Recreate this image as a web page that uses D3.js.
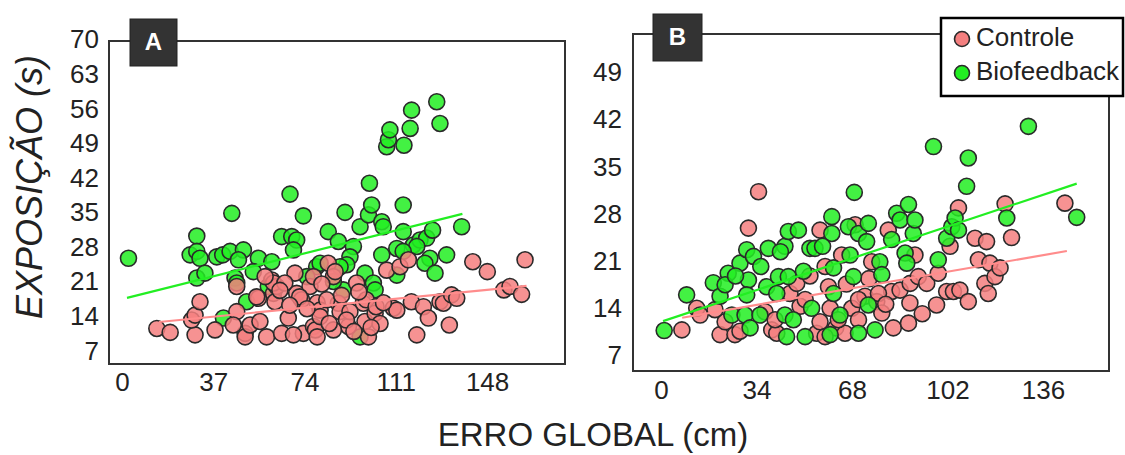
<!DOCTYPE html>
<html>
<head>
<meta charset="utf-8">
<script src="https://cdn.jsdelivr.net/npm/d3@7"></script>
<style>
  body { margin: 0; background: #fff; }
  svg text { font-family: "Liberation Sans", Arial, sans-serif; fill: #222; }
</style>
</head>
<body>
<svg id="chart" width="1125" height="455"></svg>
<script>
// Panel A data: [erro global (cm), exposição (s)]
const aControle = [
  [14.1,11.8],[19.5,11.0],[29.6,10.5],[28.2,13.5],[29.6,14.5],[31.6,17.2],[37.7,11.5],[46.5,15.2],
  [46.5,20.3],[49.9,10.8],[49.9,10.1],[51.9,12.5],[55.9,13.2],[55.3,17.9],[58.6,10.1],[60.7,21.6],
  [61.4,18.9],[62,17.2],[62.7,20.3],[64.7,10.8],[67.4,13.9],[70.1,23.0],[70.8,18.9],[72.8,17.6],
  [73.5,10.8],[76.2,20.3],[77.6,12.2],[78.4,11.5],[79.1,10.1],[79.1,17.0],[80.3,15.5],[83.6,25.0],
  [85.7,22.3],[86.4,23.3],[87.7,16.9],[88.4,15.2],[91.8,12.2],[95.1,21.0],[97.8,16.9],[98.5,13.2],
  [99.9,10.1],[102.6,14.9],[104.6,12.8],[107.3,23.6],[110,15.9],[111.4,15.5],[112.7,24.3],[116.1,25.7],
  [117.3,17.2],[119.5,10.5],[122.2,16.2],[124.2,13.9],[128.9,17.2],[130.3,16.9],[132.7,12.5],[133.6,18.6],
  [135.7,17.9],[142.2,25.3],[148.1,23.3],[154.8,19.6],[157.3,20.3],[162,18.7],[163.4,25.7],
  [61.4,21.0],[58,22.3],[66,21.0],[72,18.2],[77.6,22.3],[83,17.6],[85.7,11.5],[92.4,15.2],[99,17.6],
  [103,16.2],[91,13.5],[80.3,14.2],[69.5,10.5],[45.1,12.5],[54.6,18.2],
  [64,19.5],[68,16.5],[75,15.8],[81,20.8],[84,12.8],[89,18.5],[94,11.2],[96,19.2],[101,12.0],[106,17.0]
];
const aBiofeedback = [
  [2.6,26.0],[30.3,30.5],[27.6,26.7],[30.3,27.4],[31.6,26.0],[30.3,22.0],[33.6,23.0],[38.4,26.3],
  [40.8,26.7],[43.8,27.4],[49.2,27.7],[47.2,25.7],[44.5,35.1],[45.8,22.0],[46.5,21.0],[50.5,17.2],
  [41.1,13.9],[55.3,26.0],[53.2,23.3],[60.7,25.3],[59.3,20.3],[64.7,30.4],[68.1,39.0],[68.8,30.4],
  [70.8,29.7],[69.5,27.7],[73.5,34.6],[78.9,24.3],[83.6,31.4],[87.7,29.4],[90.4,35.3],[93.8,28.4],
  [92.4,26.3],[91.1,24.7],[89.7,19.6],[96.5,32.4],[99.9,34.8],[101.2,36.8],[100.3,41.2],[105.3,33.4],
  [105.9,32.4],[105.3,26.7],[98.5,23.0],[101.9,21.0],[102.6,19.6],[96.5,10.1],[107.3,48.6],[108,50.0],
  [108.6,52.0],[114.3,48.9],[116.8,52.3],[117.4,56.0],[127.6,57.7],[128.9,53.3],[114,36.8],[114,31.4],
  [111.4,28.0],[111.4,22.6],[118.1,28.7],[120.8,29.7],[123.5,30.1],[125.9,31.7],[124.8,26.0],[122.8,25.0],
  [126.9,23.0],[131.6,26.7],[137.7,32.4],[119.5,28.4],[114,27.4],[74.9,22.3],[80.3,25.0],[85.7,21.3],[88.4,24.3]
];
// Panel B data
const bControle = [
  [7.4,11.0],[12.7,14.2],[13.9,13.2],[21,10.3],[22.8,12.2],[26.3,10.3],[28.1,10.8],[31.1,26.1],
  [34.7,31.5],[37,13.7],[39.4,11.0],[41.2,10.5],[45.9,16.4],[48.3,17.9],[49.5,14.5],[55.4,10.5],
  [56.6,25.8],[56.6,12.2],[58.4,20.4],[59.6,17.4],[60.2,14.2],[62.2,11.3],[64.3,22.1],[65.5,10.5],
  [67.9,14.2],[69.1,26.6],[70.3,12.5],[72.6,16.0],[75,21.1],[76.8,15.2],[78.6,13.5],[80.9,25.8],
  [82.1,16.7],[82.7,11.3],[85.1,16.9],[88.1,12.0],[88.7,17.9],[90.4,22.1],[91.6,18.9],[94.6,17.9],
  [98.1,14.7],[98.7,19.4],[101.7,16.7],[102.9,23.4],[104.1,16.7],[105.9,29.1],[106.4,16.9],[109.4,15.2],
  [111.8,24.6],[113,21.4],[115.9,24.1],[115.3,17.9],[116.5,16.4],[117.1,20.9],[118.9,18.9],[120.7,20.2],
  [122.5,29.7],[124.8,24.7],[143.8,29.8],[51.3,15.5],[63.1,12.5],[70.3,15.5],[77.4,16.4],[88.6,15.0],
  [19.2,14.0],[40.6,12.5],[58.4,10.0],[66,17.8],[80,14.8],[93,13.4],[53,19.0],[74,18.6]
];
const bBiofeedback = [
  [1.1,10.9],[9.1,16.2],[18.6,18.0],[21,16.0],[23.9,19.4],[22.8,17.7],[25.2,13.2],[28.1,20.9],
  [30.5,22.9],[31.1,18.4],[30.5,16.2],[29.9,13.2],[31.7,11.3],[32.9,21.9],[35.2,13.2],[37.6,17.4],
  [38.2,23.1],[41.2,16.4],[41.8,18.9],[44.1,23.4],[45.3,25.6],[45.3,18.9],[44.1,13.2],[44.7,10.0],
  [47.1,12.5],[48.9,25.8],[50.7,19.7],[51.3,10.0],[53,23.1],[53.6,14.2],[54.8,23.1],[60.8,27.8],
  [60.8,25.3],[60.2,10.3],[61.4,20.2],[61.4,16.4],[63.7,13.2],[66.7,26.3],[67.3,22.1],[68.5,18.9],
  [68.8,31.4],[70.3,25.3],[70.3,10.5],[73.2,24.1],[73.8,26.8],[73.8,14.7],[76.2,11.0],[77.9,21.1],
  [78.6,19.2],[82.1,24.4],[83.9,28.3],[85.1,27.3],[86.9,22.4],[87.5,20.9],[88.1,29.6],[89.8,25.3],
  [90.4,27.3],[97,38.2],[98.7,21.4],[101.7,24.6],[103.5,26.3],[104.7,27.6],[105.9,25.8],[108.8,32.3],
  [109.4,36.5],[123.1,27.6],[130.8,41.2],[148,27.7],[26.5,19.0],[35.5,20.4],[42.5,22.6],[57.5,23.4]
];
// trend line end points
const aTrendControle = [[15,13.1],[164,20.4]];
const aTrendBio = [[2,18.0],[138,35.0]];
const bTrendControle = [[7.5,12.8],[144.5,22.7]];
const bTrendBio = [[0.7,12.3],[148,32.7]];

const aXTicks = [0, 37, 74, 111, 148];
const aYTicks = [7, 14, 21, 28, 35, 42, 49, 56, 63, 70];
const bXTicks = [0, 34, 68, 102, 136];
const bYTicks = [7, 14, 21, 28, 35, 42, 49];

const groups = ["Controle", "Biofeedback"];
const colors = { Controle: "#f47f7f", Biofeedback: "#22ee22" };
const lineColors = { Controle: "#ff8c8c", Biofeedback: "#22ee22" };

const svg = d3.select("#chart");

function drawPanel(cfg) {
  const x = d3.scaleLinear().domain(cfg.xDomain).range([cfg.left, cfg.right]);
  const y = d3.scaleLinear().domain(cfg.yDomain).range([cfg.bottom, cfg.top]);
  const g = svg.append("g");

  // tick labels only (no tick marks in the original)
  const xAxis = g.append("g")
    .attr("transform", `translate(0,${cfg.xLabelY})`)
    .call(d3.axisBottom(x).tickValues(cfg.xTicks).tickSize(0).tickPadding(0));
  xAxis.select(".domain").remove();
  xAxis.selectAll("text")
    .attr("dy", null)
    .attr("dominant-baseline", "middle")
    .style("font-size", "26px")
    .style("font-family", "'Liberation Sans', Arial, sans-serif")
    .attr("fill", "#222");

  const yAxis = g.append("g")
    .attr("transform", `translate(${cfg.yLabelX},0)`)
    .call(d3.axisLeft(y).tickValues(cfg.yTicks).tickSize(0).tickPadding(0));
  yAxis.select(".domain").remove();
  yAxis.selectAll("text")
    .attr("dy", null)
    .attr("dominant-baseline", "middle")
    .style("font-size", "26px")
    .style("font-family", "'Liberation Sans', Arial, sans-serif")
    .attr("fill", "#222");

  // points
  cfg.order.forEach(name => {
    g.append("g").selectAll("circle")
      .data(cfg.data[name])
      .enter()
      .append("circle")
      .attr("cx", d => x(d[0]))
      .attr("cy", d => y(d[1]))
      .attr("r", 8)
      .attr("fill", colors[name])
      .attr("fill-opacity", 0.85)
      .attr("stroke", "#2a2a2a")
      .attr("stroke-width", 1.6);
  });

  // trend lines
  const line = d3.line().x(d => x(d[0])).y(d => y(d[1]));
  groups.forEach(name => {
    g.append("path")
      .attr("d", line(cfg.trend[name]))
      .attr("fill", "none")
      .attr("stroke", lineColors[name])
      .attr("stroke-width", 2.2);
  });

  // frame
  g.append("rect")
    .attr("x", cfg.left).attr("y", cfg.top)
    .attr("width", cfg.right - cfg.left)
    .attr("height", cfg.bottom - cfg.top)
    .attr("fill", "none")
    .attr("stroke", "#333")
    .attr("stroke-width", 2);

  // panel letter
  g.append("rect")
    .attr("x", cfg.tag.x).attr("y", cfg.tag.y)
    .attr("width", cfg.tag.w).attr("height", cfg.tag.h)
    .attr("fill", "#333").attr("stroke", "#222").attr("stroke-width", 1);
  g.append("text")
    .attr("x", cfg.tag.x + cfg.tag.w / 2)
    .attr("y", cfg.tag.y + cfg.tag.h / 2 + 1)
    .attr("text-anchor", "middle")
    .attr("dominant-baseline", "middle")
    .style("font-size", "24px")
    .style("font-weight", "bold")
    .style("fill", "#fff")
    .text(cfg.tag.label);
}

drawPanel({
  left: 109, right: 565, top: 41, bottom: 364,
  xDomain: [-5.3, 179.6], yDomain: [4.6, 70],
  xTicks: aXTicks, yTicks: aYTicks,
  xLabelY: 384, yLabelX: 99,
  data: { Controle: aControle, Biofeedback: aBiofeedback },
  order: ["Biofeedback", "Controle"],
  trend: { Controle: aTrendControle, Biofeedback: aTrendBio },
  tag: { x: 130, y: 19, w: 47, h: 47, label: "A" }
});

drawPanel({
  left: 633, right: 1109, top: 34, bottom: 371,
  xDomain: [-10, 159.5], yDomain: [4.9, 54.9],
  xTicks: bXTicks, yTicks: bYTicks,
  xLabelY: 392, yLabelX: 622,
  data: { Controle: bControle, Biofeedback: bBiofeedback },
  order: ["Controle", "Biofeedback"],
  trend: { Controle: bTrendControle, Biofeedback: bTrendBio },
  tag: { x: 653, y: 14, w: 49, h: 47, label: "B" }
});

// legend
const legend = svg.append("g");
legend.append("rect")
  .attr("x", 941).attr("y", 18).attr("width", 182).attr("height", 78)
  .attr("fill", "#fff").attr("stroke", "#000").attr("stroke-width", 2.5);
groups.forEach((name, i) => {
  const cy = 39 + i * 34;
  legend.append("circle")
    .attr("cx", 962).attr("cy", cy).attr("r", 7.5)
    .attr("fill", colors[name]).attr("stroke", "#2a2a2a").attr("stroke-width", 1.6);
  legend.append("text")
    .attr("x", 976).attr("y", cy)
    .attr("dominant-baseline", "middle")
    .style("font-size", "26px")
    .text(name);
});

// axis titles
svg.append("text")
  .attr("transform", "translate(42,187) rotate(-90)")
  .attr("text-anchor", "middle")
  .style("font-size", "36px")
  .style("font-style", "italic")
  .text("EXPOSIÇÃO (s)");

svg.append("text")
  .attr("x", 593).attr("y", 446)
  .attr("text-anchor", "middle")
  .style("font-size", "33px")
  .text("ERRO GLOBAL (cm)");
</script>
</body>
</html>
